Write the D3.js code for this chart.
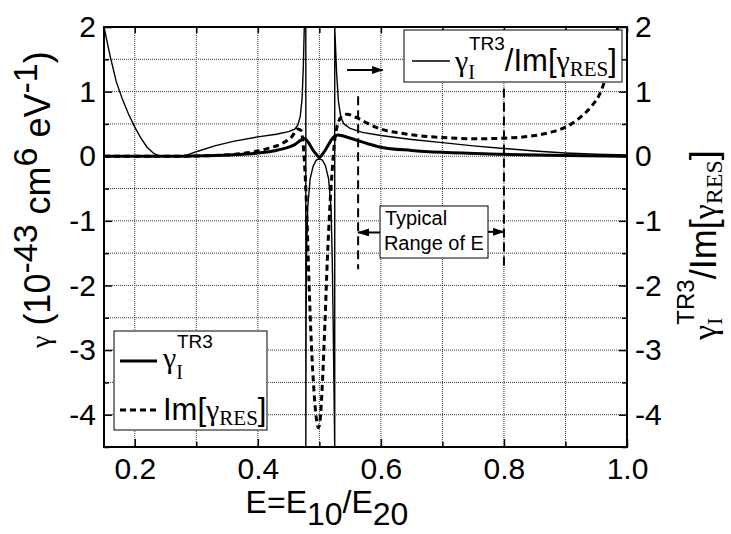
<!DOCTYPE html>
<html>
<head>
<meta charset="utf-8">
<script src="https://cdn.jsdelivr.net/npm/d3@7"></script>
<style>
body{margin:0;background:#fff}
</style>
</head>
<body>
<svg id="chart" width="731" height="534"></svg>
<script>
// thin line: gamma_I^TR3 / Im[gamma_RES] (right axis), runs through both poles
var ratioE = [0.15,0.16,0.17,0.18,0.19,0.20,0.21,0.22,0.23,0.24,0.26,0.28,0.30,0.33,0.36,0.40,0.43,0.45,0.46,0.465,0.469,0.472,0.474,0.4755,0.478,
              0.478,0.4785,0.479,0.481,0.485,0.49,0.495,0.50,0.505,0.51,0.515,0.519,0.521,0.5225,0.525,
              0.525,0.528,0.531,0.535,0.54,0.55,0.57,0.60,0.65,0.70,0.75,0.80,0.85,0.90,0.95,1.0]
var ratioV = [2.0,1.55,1.15,0.88,0.65,0.45,0.28,0.14,0.05,0.0,0.0,0.0,0.07,0.16,0.23,0.3,0.34,0.38,0.42,0.48,0.62,0.9,1.4,2.0,2.0,
              -4.5,-2.6,-1.6,-0.8,-0.35,-0.15,-0.06,-0.04,-0.06,-0.15,-0.35,-0.8,-1.6,-2.6,-4.5,
              2.0,1.3,0.85,0.6,0.5,0.43,0.37,0.32,0.26,0.21,0.16,0.12,0.08,0.05,0.03,0.02]

// thick solid: gamma_I^TR3
var gammaE = [0.15,0.20,0.25,0.28,0.30,0.35,0.40,0.43,0.45,0.46,0.47,0.475,0.48,0.485,0.49,0.495,0.50,0.505,0.51,0.515,0.52,0.525,0.53,0.54,0.56,0.58,0.60,0.65,0.70,0.80,0.90,1.0]
var gammaV = [0,0,0,0,0.005,0.02,0.05,0.09,0.14,0.18,0.25,0.28,0.24,0.17,0.09,0.03,-0.02,0.03,0.1,0.18,0.26,0.31,0.33,0.31,0.25,0.19,0.14,0.09,0.06,0.03,0.01,0.0]

// thick dashed: Im[gamma_RES]
var imE = [0.15,0.20,0.25,0.30,0.35,0.38,0.40,0.42,0.44,0.455,0.465,0.47,0.474,0.477,0.48,0.483,0.487,0.491,0.495,0.4985,0.502,0.505,0.509,0.513,0.517,0.521,0.525,0.53,0.537,0.545,0.56,0.58,0.60,0.63,0.66,0.70,0.75,0.80,0.85,0.88,0.90,0.92,0.94,0.955,0.965,0.975,0.985]
var imV = [0,0,0,0.005,0.02,0.05,0.08,0.13,0.2,0.3,0.42,0.4,0.15,-0.3,-1.0,-1.9,-2.9,-3.6,-4.05,-4.2,-4.0,-3.5,-2.6,-1.6,-0.8,-0.2,0.25,0.5,0.62,0.65,0.6,0.5,0.42,0.36,0.32,0.29,0.27,0.28,0.32,0.38,0.45,0.57,0.75,0.95,1.2,1.55,2.0]

var xTicks = [0.2,0.4,0.6,0.8,1.0]
var xMinor = [0.3,0.5,0.7,0.9]
var yTicks = [-4,-3,-2,-1,0,1,2]
var yMinor = [-4.5,-3.5,-2.5,-1.5,-0.5,0.5,1.5]
var gridX = [0.2,0.3,0.4,0.5,0.6,0.7,0.8,0.9]
var gridY = [-4,-3.5,-3,-2.5,-2,-1.5,-1,-0.5,0,0.5,1,1.5]

// typical range of E, marker tops
var rangeE = [0.563,0.8]
var rangeTop = [0.93,1.05]
var rangeBottom = -1.75

var sans = "'Liberation Sans', Arial, sans-serif"
var serif = "'Liberation Serif', 'Times New Roman', serif"

var svg = d3.select("#chart")
var x = d3.scaleLinear().domain([0.15,1.0]).range([104,627])
var y = d3.scaleLinear().domain([-4.5,2]).range([447,27])

var defs = svg.append("defs")
defs.append("clipPath").attr("id","plotClip").append("rect")
    .attr("x",x(0.15)).attr("y",y(2))
    .attr("width",x(1.0)-x(0.15)).attr("height",y(-4.5)-y(2))
defs.append("marker").attr("id","arr")
    .attr("viewBox","0 0 12 8").attr("refX",11).attr("refY",4)
    .attr("markerWidth",12).attr("markerHeight",8)
    .attr("markerUnits","userSpaceOnUse").attr("orient","auto")
  .append("path").attr("d","M0,0L12,4L0,8Z").attr("fill","black")

// dotted grid
svg.append("g").selectAll("line").data(gridX).enter().append("line")
    .attr("x1",d=>x(d)).attr("x2",d=>x(d)).attr("y1",y(2)).attr("y2",y(-4.5))
    .attr("stroke","#333").attr("stroke-width",1).attr("stroke-dasharray","1,1")
svg.append("g").selectAll("line").data(gridY).enter().append("line")
    .attr("y1",d=>y(d)).attr("y2",d=>y(d)).attr("x1",x(0.15)).attr("x2",x(1.0))
    .attr("stroke","#333").attr("stroke-width",1).attr("stroke-dasharray","1,1")

// axes, ticks pointing in
function styleAxis(g){
  g.select(".domain").remove()
  g.selectAll(".tick line").attr("stroke","black").attr("stroke-width",1.5)
  g.selectAll("text").attr("font-family",sans).attr("font-size",30).attr("fill","black")
}
svg.append("g").attr("transform","translate(0,"+y(-4.5)+")")
    .call(d3.axisBottom(x).tickValues(xTicks).tickFormat(d3.format(".1f")).tickSizeInner(-8).tickSizeOuter(0).tickPadding(11))
    .call(styleAxis)
svg.append("g").attr("transform","translate(0,"+y(-4.5)+")")
    .call(d3.axisBottom(x).tickValues(xMinor).tickFormat("").tickSizeInner(-5).tickSizeOuter(0))
    .call(styleAxis)
svg.append("g").attr("transform","translate(0,"+y(2)+")")
    .call(d3.axisTop(x).tickValues(xTicks.concat(xMinor)).tickFormat("").tickSizeInner(-6).tickSizeOuter(0))
    .call(styleAxis)
svg.append("g").attr("transform","translate("+x(0.15)+",0)")
    .call(d3.axisLeft(y).tickValues(yTicks).tickFormat(d=>String(d)).tickSizeInner(-8).tickSizeOuter(0).tickPadding(8))
    .call(styleAxis)
svg.append("g").attr("transform","translate("+x(0.15)+",0)")
    .call(d3.axisLeft(y).tickValues(yMinor).tickFormat("").tickSizeInner(-5).tickSizeOuter(0))
    .call(styleAxis)
svg.append("g").attr("transform","translate("+x(1.0)+",0)")
    .call(d3.axisRight(y).tickValues(yTicks).tickFormat(d=>String(d)).tickSizeInner(-8).tickSizeOuter(0).tickPadding(8))
    .call(styleAxis)
svg.append("g").attr("transform","translate("+x(1.0)+",0)")
    .call(d3.axisRight(y).tickValues(yMinor).tickFormat("").tickSizeInner(-5).tickSizeOuter(0))
    .call(styleAxis)

// curves
var line = d3.line().x(d=>x(d[0])).y(d=>y(d[1]))
var smooth = d3.line().x(d=>x(d[0])).y(d=>y(d[1])).curve(d3.curveMonotoneX)
var plot = svg.append("g").attr("clip-path","url(#plotClip)")

plot.append("path").datum(d3.zip(ratioE,ratioV)).attr("d",line)
    .attr("fill","none").attr("stroke","black").attr("stroke-width",1.4)
plot.append("path").datum(d3.zip(gammaE,gammaV)).attr("d",smooth)
    .attr("fill","none").attr("stroke","black").attr("stroke-width",3)
plot.append("path").datum(d3.zip(imE,imV)).attr("d",smooth)
    .attr("fill","none").attr("stroke","black").attr("stroke-width",3).attr("stroke-dasharray","6,4")

// typical range markers
svg.append("g").selectAll("line").data(rangeE).enter().append("line")
    .attr("x1",d=>x(d)).attr("x2",d=>x(d))
    .attr("y1",(d,i)=>y(rangeTop[i])).attr("y2",y(rangeBottom))
    .attr("stroke","black").attr("stroke-width",2).attr("stroke-dasharray","9,5")

svg.append("rect").attr("x",x(0.5986)).attr("y",y(-0.77))
    .attr("width",x(0.7741)-x(0.5986)).attr("height",y(-1.575)-y(-0.77))
    .attr("fill","white").attr("stroke","black").attr("stroke-width",1)
svg.append("text").attr("x",x(0.6)+4).attr("y",y(-1.06)).text("Typical")
    .attr("font-family",sans).attr("font-size",20)
svg.append("text").attr("x",x(0.6)+3).attr("y",y(-1.45)).text("Range of E")
    .attr("font-family",sans).attr("font-size",20)

function arrow(e1,e2,v){
  svg.append("line").attr("x1",x(e1)).attr("x2",x(e2)).attr("y1",y(v)).attr("y2",y(v))
    .attr("stroke","black").attr("stroke-width",2).attr("marker-end","url(#arr)")
}
arrow(0.5986,rangeE[0],-1.18)
arrow(0.7741,rangeE[1],-1.17)
arrow(0.545,0.603,1.335)

// text with sub/superscripts; parts: [text, font, size, dy, dx]
function richText(g,px,py,parts){
  var t = g.append("text").attr("x",px).attr("y",py)
  parts.forEach(function(p){
    var s = t.append("tspan").text(p[0])
      .attr("font-family",p[1]=="s"?serif:sans).attr("font-size",p[2])
    if(p[3]) s.attr("dy",p[3])
    if(p[4]) s.attr("dx",p[4])
  })
  return t
}

// legend top right
svg.append("rect").attr("x",404).attr("y",30).attr("width",218).attr("height",52)
    .attr("fill","white").attr("stroke","black").attr("stroke-width",1)
svg.append("line").attr("x1",412).attr("x2",450).attr("y1",61).attr("y2",61)
    .attr("stroke","black").attr("stroke-width",1.4)
richText(svg,455,71,[["γ","s",30],["I","s",20,8],["TR3","a",19,-29,-6],["/Im[","a",31,21],["γ","s",30],["RES","s",21,5],["]","a",31,-5]])

// legend bottom left
svg.append("rect").attr("x",114).attr("y",331).attr("width",153).attr("height",99)
    .attr("fill","white").attr("stroke","black").attr("stroke-width",1)
svg.append("line").attr("x1",120).attr("x2",157).attr("y1",361).attr("y2",361)
    .attr("stroke","black").attr("stroke-width",3)
richText(svg,163,368,[["γ","s",30],["I","s",20,11],["TR3","a",19,-31,-6]])
svg.append("line").attr("x1",120).attr("x2",158).attr("y1",410).attr("y2",410)
    .attr("stroke","black").attr("stroke-width",3).attr("stroke-dasharray","6,4")
richText(svg,163,420,[["Im[","a",31],["γ","s",30],["RES","s",21,5],["]","a",31,-5]])

// axis titles
richText(svg,327,513,[["E=E","a",32],["10","a",32,12],["/E","a",32,-12],["20","a",32,12]])
  .attr("text-anchor","middle")
var lt = svg.append("g").attr("transform","translate(50,348) rotate(-90)")
richText(lt,0,0,[["γ","s",28],[" (10","a",36],["-43","a",34,-13],[" cm","a",36,13],["6","a",34,-13],[" eV","a",36,13],["-1","a",34,-13],[")","a",36,13]])
var rt = svg.append("g").attr("transform","translate(716,340) rotate(-90)")
richText(rt,0,0,[["γ","s",34],["I","s",22,6],["TR3","a",24,-28,-7],["/Im[","a",36,22],["γ","s",34],["RES","s",24,6],["]","a",36,-6]])

// frame
svg.append("rect").attr("x",x(0.15)).attr("y",y(2))
    .attr("width",x(1.0)-x(0.15)).attr("height",y(-4.5)-y(2))
    .attr("fill","none").attr("stroke","black").attr("stroke-width",2)
</script>
</body>
</html>
